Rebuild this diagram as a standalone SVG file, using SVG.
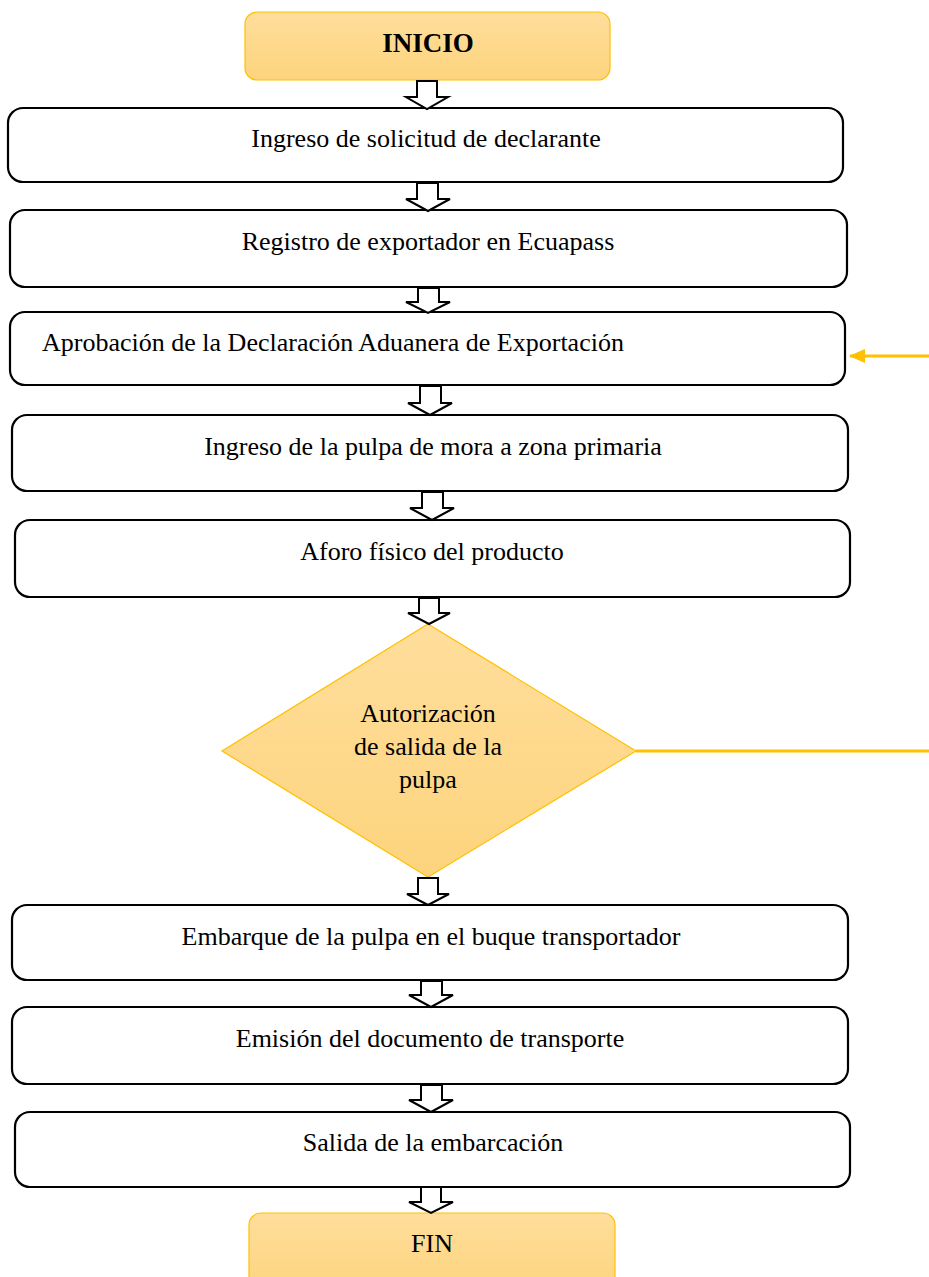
<svg xmlns="http://www.w3.org/2000/svg" width="929" height="1277" viewBox="0 0 929 1277">
<defs>
<linearGradient id="gold" x1="0" y1="0" x2="0" y2="1">
<stop offset="0" stop-color="#FFDE9C"/>
<stop offset="1" stop-color="#FDD47D"/>
</linearGradient>
<marker id="ah" markerWidth="10" markerHeight="10" refX="9" refY="5" orient="auto" markerUnits="userSpaceOnUse">
<path d="M0,0 L10,5 L0,10 Z" fill="#FFC000"/>
</marker>
<marker id="ah2" viewBox="0 0 16 14" markerWidth="16" markerHeight="14" refX="15" refY="7" orient="auto" markerUnits="userSpaceOnUse">
<path d="M0,0 L16,7 L0,14 Z" fill="#FFC000"/>
</marker>
</defs>
<style>
.box{fill:#fff;stroke:#000;stroke-width:2.2}
.term{fill:url(#gold);stroke:#FFC000;stroke-width:1.2}
.t{font-family:"Liberation Serif","Times New Roman",serif;font-size:26px;fill:#000;text-anchor:middle}
.b{font-weight:bold;font-size:27px}
.blk{fill:#fff;stroke:#000;stroke-width:2}
.yl{stroke:#FFC000;stroke-width:3;fill:none}
</style>

<g id="inicio">
<rect class="term" x="245" y="12" width="365" height="68" rx="12"/>
<text class="t b" x="428" y="52">INICIO</text>
</g>
<g id="n1">
<rect class="box" x="8" y="108" width="835" height="74" rx="15"/>
<text class="t" x="426" y="147">Ingreso de solicitud de declarante</text>
</g>
<g id="n2">
<rect class="box" x="10" y="210" width="837" height="77" rx="15"/>
<text class="t" x="428" y="250">Registro de exportador en Ecuapass</text>
</g>
<g id="n3">
<rect class="box" x="10" y="312" width="835" height="73" rx="15"/>
<text class="t" x="333" y="351">Aprobación de la Declaración Aduanera de Exportación</text>
</g>
<g id="n4">
<rect class="box" x="12" y="415" width="836" height="76" rx="15"/>
<text class="t" x="433" y="455">Ingreso de la pulpa de mora a zona primaria</text>
</g>
<g id="n5">
<rect class="box" x="15" y="520" width="835" height="77" rx="15"/>
<text class="t" x="432" y="560">Aforo físico del producto</text>
</g>
<g id="decision">
<polygon points="428,624 636,751 428,877 222,751" fill="url(#gold)" stroke="#FFC000" stroke-width="1.2"/>
<text class="t" x="428" y="722">Autorización</text>
<text class="t" x="428" y="755">de salida de la</text>
<text class="t" x="428" y="788">pulpa</text>
</g>
<g id="n6">
<rect class="box" x="12" y="905" width="836" height="75" rx="15"/>
<text class="t" x="431" y="945">Embarque de la pulpa en el buque transportador</text>
</g>
<g id="n7">
<rect class="box" x="12" y="1007" width="836" height="77" rx="15"/>
<text class="t" x="430" y="1047">Emisión del documento de transporte</text>
</g>
<g id="n8">
<rect class="box" x="15" y="1112" width="835" height="75" rx="15"/>
<text class="t" x="433" y="1151">Salida de la embarcación</text>
</g>
<g id="fin">
<rect class="term" x="249" y="1213" width="366" height="80" rx="12"/>
<text class="t" x="432" y="1252">FIN</text>
</g>

<g id="connectors">
<path class="blk" d="M417,81 h20 v16 h11 l-21,12 l-21,-12 h11 Z"/>
<path class="blk" d="M417,183 h21 v16 h12 l-22,12 l-22,-12 h11 Z"/>
<path class="blk" d="M418,288 h21 v14 h11 l-22,11 l-22,-11 h12 Z"/>
<path class="blk" d="M420,386 h21 v17 h11 l-22,12 l-22,-12 h12 Z"/>
<path class="blk" d="M422,492 h21 v16 h11 l-22,12 l-22,-12 h12 Z"/>
<path class="blk" d="M419,598 h20 v15 h11 l-21,11 l-21,-11 h11 Z"/>
<path class="blk" d="M418,878 h20 v16 h11 l-21,11 l-21,-11 h11 Z"/>
<path class="blk" d="M421,981 h21 v14 h11 l-22,12 l-22,-12 h12 Z"/>
<path class="blk" d="M421,1085 h21 v15 h11 l-22,12 l-22,-12 h12 Z"/>
<path class="blk" d="M421,1187 h20 v15 h12 l-22,11 l-22,-11 h12 Z"/>
<line class="yl" x1="929" y1="356" x2="850" y2="356" marker-end="url(#ah2)"/>
<line class="yl" x1="636" y1="751" x2="929" y2="751"/>
</g>
</svg>
